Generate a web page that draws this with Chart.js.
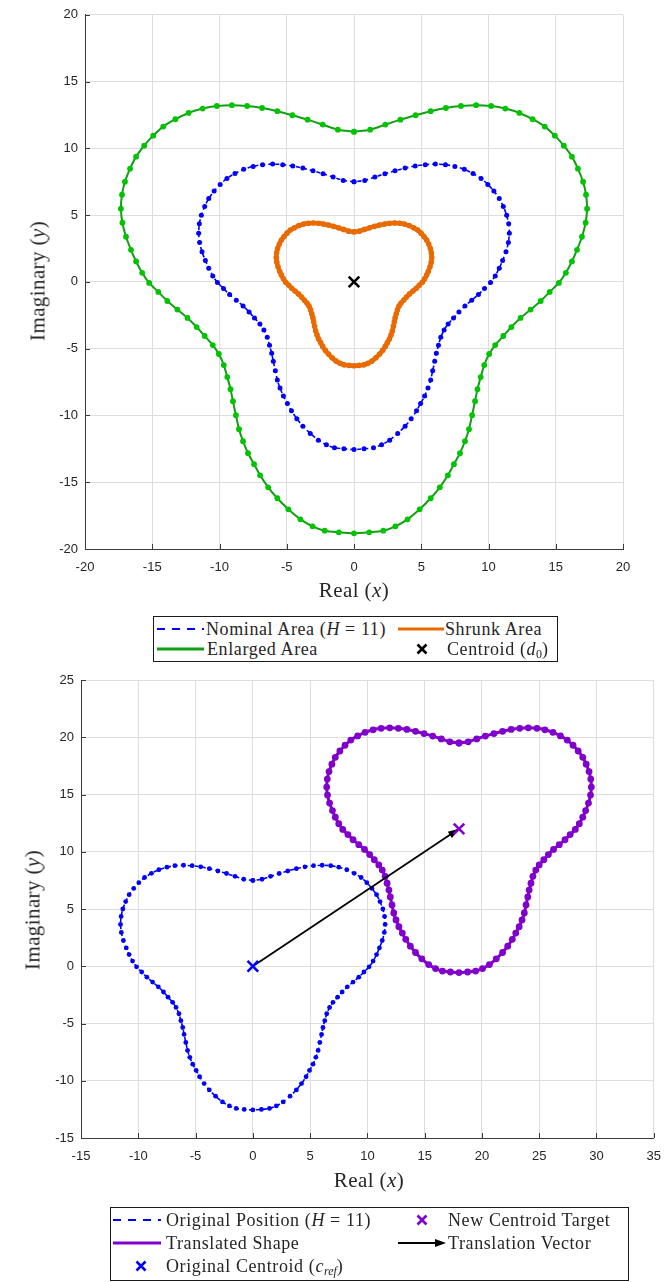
<!DOCTYPE html>
<html>
<head>
<meta charset="utf-8">
<title>Area scaling and translation</title>
<script src="https://cdn.jsdelivr.net/npm/chart.js@4/dist/chart.umd.min.js"></script>
<style>
    body { margin: 0; width: 672px; height: 1282px; position: relative; background: #fff; overflow: hidden; }
    .plot { position: absolute; left: 0; }
    .title { position: absolute; font-family: 'Liberation Serif', serif; font-size: 21px; color: #262626;
             white-space: nowrap; transform: translate(-50%, -50%); letter-spacing: 0.4px; }
    .title.rot { transform: translate(-50%, -50%) rotate(-90deg); }
    .legend { position: absolute; border: 1px solid #1a1a1a; background: #fff; box-sizing: border-box;
              font-family: 'Liberation Serif', serif; font-size: 18px; color: #262626; }
    .legend span { position: absolute; white-space: nowrap; line-height: 20px; letter-spacing: 0.6px; }
    .legend svg { position: absolute; }
    sub { font-size: 12px; vertical-align: -3px; letter-spacing: 0; }
</style>
</head>
<body>

<div class="plot" style="top:0"><canvas id="areaChart" width="672" height="600"></canvas></div>
<div class="plot" style="top:600px"><canvas id="shiftChart" width="672" height="600"></canvas></div>

<!-- axis titles -->
<div class="title" style="left:354px;top:590px">Real (<i>x</i>)</div>
<div class="title rot" style="left:38px;top:281px">Imaginary (<i>y</i>)</div>
<div class="title" style="left:369px;top:1180px">Real (<i>x</i>)</div>
<div class="title rot" style="left:33px;top:910px">Imaginary (<i>y</i>)</div>

<!-- legend, upper plot -->
<div class="legend" style="left:153px;top:616px;width:405px;height:46px">
    <svg style="left:3px;top:5px" width="48" height="14"><line x1="0" y1="7" x2="47" y2="7" stroke="#0000ff" stroke-width="2" stroke-dasharray="8 7"/></svg>
    <span style="left:52px;top:2px">Nominal Area (<i>H</i> = 11)</span>
    <svg style="left:244px;top:5px" width="48" height="14"><line x1="0" y1="7" x2="46" y2="7" stroke="#e86a00" stroke-width="3"/></svg>
    <span style="left:291px;top:2px">Shrunk Area</span>
    <svg style="left:3px;top:25px" width="48" height="14"><line x1="0" y1="7" x2="47" y2="7" stroke="#11a011" stroke-width="3"/></svg>
    <span style="left:53px;top:22px">Enlarged Area</span>
    <svg style="left:261px;top:25px" width="14" height="14"><path d="M2.5 2.5 L11.5 11.5 M11.5 2.5 L2.5 11.5" stroke="#000" stroke-width="2.6"/></svg>
    <span style="left:293px;top:22px">Centroid (<i>d</i><sub>0</sub>)</span>
</div>

<!-- legend, lower plot -->
<div class="legend" style="left:110px;top:1207px;width:519px;height:74px">
    <svg style="left:2px;top:5px" width="50" height="14"><line x1="0" y1="7" x2="48" y2="7" stroke="#0000ff" stroke-width="2" stroke-dasharray="8 7"/></svg>
    <span style="left:55px;top:2px">Original Position (<i>H</i> = 11)</span>
    <svg style="left:304px;top:5px" width="14" height="14"><path d="M2.5 2.5 L11.5 11.5 M11.5 2.5 L2.5 11.5" stroke="#8000cc" stroke-width="2.6"/></svg>
    <span style="left:337px;top:2px">New Centroid Target</span>
    <svg style="left:2px;top:28px" width="50" height="14"><line x1="0" y1="7" x2="48" y2="7" stroke="#8000cc" stroke-width="3"/></svg>
    <span style="left:55px;top:25px">Translated Shape</span>
    <svg style="left:287px;top:28px" width="50" height="14"><line x1="0" y1="7" x2="40" y2="7" stroke="#000" stroke-width="2"/><path d="M48 7 L37 3 L37 11 Z" fill="#000"/></svg>
    <span style="left:337px;top:25px">Translation Vector</span>
    <svg style="left:23px;top:51px" width="14" height="14"><path d="M2.5 2.5 L11.5 11.5 M11.5 2.5 L2.5 11.5" stroke="#0000ff" stroke-width="2.6"/></svg>
    <span style="left:55px;top:48px">Original Centroid (<i>c</i><sub><i>ref</i></sub>)</span>
</div>

<script>
(function() {
    'use strict';

    // ---- tick labels ----
    var areaTicksX = [-20, -15, -10, -5, 0, 5, 10, 15, 20];
    var areaTicksY = [-20, -15, -10, -5, 0, 5, 10, 15, 20];
    var shiftTicksX = [-15, -10, -5, 0, 5, 10, 15, 20, 25, 30, 35];
    var shiftTicksY = [-15, -10, -5, 0, 5, 10, 15, 20, 25];

    // ---- nominal boundary (H = 11) ----
    var nominalPts = [
        [0,7.5],[-0.8,7.6],[-1.55,7.85],[-2.3,8.1],[-3.05,8.32],[-3.8,8.52],[-4.55,8.68],[-5.3,8.78],[-6.05,8.82],[-6.8,8.78],
        [-7.5,8.65],[-8.2,8.43],[-8.85,8.12],[-9.45,7.75],[-9.95,7.3],[-10.4,6.8],[-10.8,6.25],[-11.1,5.65],[-11.35,5],[-11.5,4.35],
        [-11.55,3.65],[-11.48,2.95],[-11.3,2.25],[-11.05,1.6],[-10.8,1.02],[-10.5,0.45],[-10.15,-0.05],[-9.7,-0.5],[-9.25,-0.95],[-8.75,-1.38],
        [-8.25,-1.8],[-7.8,-2.25],[-7.4,-2.7],[-7,-3.15],[-6.7,-3.6],[-6.45,-4.15],[-6.28,-4.75],[-6.12,-5.35],[-6,-5.95],[-5.85,-6.65],
        [-5.7,-7.35],[-5.5,-7.95],[-5.25,-8.55],[-4.95,-9.1],[-4.65,-9.65],[-4.25,-10.25],[-3.8,-10.8],[-3.25,-11.35],[-2.65,-11.85],[-2.05,-12.2],
        [-1.45,-12.42],[-0.75,-12.5],[0,-12.55],
        [0.75,-12.5],[1.45,-12.42],[2.05,-12.2],[2.65,-11.85],[3.25,-11.35],[3.8,-10.8],[4.25,-10.25],[4.65,-9.65],[4.95,-9.1],[5.25,-8.55],
        [5.5,-7.95],[5.7,-7.35],[5.85,-6.65],[6,-5.95],[6.12,-5.35],[6.28,-4.75],[6.45,-4.15],[6.7,-3.6],[7,-3.15],[7.4,-2.7],
        [7.8,-2.25],[8.25,-1.8],[8.75,-1.38],[9.25,-0.95],[9.7,-0.5],[10.15,-0.05],[10.5,0.45],[10.8,1.02],[11.05,1.6],[11.3,2.25],
        [11.48,2.95],[11.55,3.65],[11.5,4.35],[11.35,5],[11.1,5.65],[10.8,6.25],[10.4,6.8],[9.95,7.3],[9.45,7.75],[8.85,8.12],
        [8.2,8.43],[7.5,8.65],[6.8,8.78],[6.05,8.82],[5.3,8.78],[4.55,8.68],[3.8,8.52],[3.05,8.32],[2.3,8.1],[1.55,7.85],
        [0.8,7.6],[0,7.5]
    ];

    // ---- enlarged boundary ----
    var enlargedPts = [
        [0,11.25],[-1.2,11.4],[-2.33,11.78],[-3.45,12.15],[-4.58,12.48],[-5.7,12.78],[-6.83,13.02],[-7.95,13.17],[-9.08,13.23],[-10.2,13.17],
        [-11.25,12.98],[-12.3,12.65],[-13.28,12.18],[-14.18,11.63],[-14.93,10.95],[-15.6,10.2],[-16.2,9.38],[-16.65,8.48],[-17.03,7.5],[-17.25,6.53],
        [-17.33,5.48],[-17.22,4.43],[-16.95,3.38],[-16.58,2.4],[-16.2,1.53],[-15.75,0.68],[-15.23,-0.08],[-14.55,-0.75],[-13.88,-1.43],[-13.13,-2.07],
        [-12.38,-2.7],[-11.7,-3.38],[-11.1,-4.05],[-10.5,-4.73],[-10.05,-5.4],[-9.68,-6.23],[-9.42,-7.13],[-9.18,-8.03],[-9,-8.93],[-8.78,-9.98],
        [-8.55,-11.03],[-8.25,-11.93],[-7.88,-12.83],[-7.43,-13.65],[-6.98,-14.48],[-6.38,-15.38],[-5.7,-16.2],[-4.88,-17.03],[-3.98,-17.78],[-3.08,-18.3],
        [-2.18,-18.63],[-1.13,-18.75],[0,-18.83],
        [1.13,-18.75],[2.18,-18.63],[3.08,-18.3],[3.98,-17.78],[4.88,-17.03],[5.7,-16.2],[6.38,-15.38],[6.98,-14.48],[7.43,-13.65],[7.88,-12.83],
        [8.25,-11.93],[8.55,-11.03],[8.78,-9.98],[9,-8.93],[9.18,-8.03],[9.42,-7.13],[9.68,-6.23],[10.05,-5.4],[10.5,-4.73],[11.1,-4.05],
        [11.7,-3.38],[12.38,-2.7],[13.13,-2.07],[13.88,-1.43],[14.55,-0.75],[15.23,-0.08],[15.75,0.68],[16.2,1.53],[16.58,2.4],[16.95,3.38],
        [17.22,4.43],[17.33,5.48],[17.25,6.53],[17.03,7.5],[16.65,8.48],[16.2,9.38],[15.6,10.2],[14.93,10.95],[14.18,11.63],[13.28,12.18],
        [12.3,12.65],[11.25,12.98],[10.2,13.17],[9.08,13.23],[7.95,13.17],[6.83,13.02],[5.7,12.78],[4.58,12.48],[3.45,12.15],[2.33,11.78],
        [1.2,11.4],[0,11.25]
    ];

    // ---- shrunk boundary ----
    var shrunkPts = [
        [0,3.75],[-0.4,3.8],[-0.78,3.93],[-1.15,4.05],[-1.53,4.16],[-1.9,4.26],[-2.28,4.34],[-2.65,4.39],[-3.03,4.41],[-3.4,4.39],
        [-3.75,4.33],[-4.1,4.22],[-4.43,4.06],[-4.73,3.88],[-4.98,3.65],[-5.2,3.4],[-5.4,3.13],[-5.55,2.83],[-5.68,2.5],[-5.75,2.18],
        [-5.78,1.83],[-5.74,1.48],[-5.65,1.13],[-5.53,0.8],[-5.4,0.51],[-5.25,0.23],[-5.08,-0.03],[-4.85,-0.25],[-4.63,-0.48],[-4.38,-0.69],
        [-4.13,-0.9],[-3.9,-1.13],[-3.7,-1.35],[-3.5,-1.58],[-3.35,-1.8],[-3.23,-2.08],[-3.14,-2.38],[-3.06,-2.68],[-3,-2.98],[-2.93,-3.33],
        [-2.85,-3.68],[-2.75,-3.98],[-2.63,-4.28],[-2.48,-4.55],[-2.33,-4.83],[-2.13,-5.13],[-1.9,-5.4],[-1.63,-5.68],[-1.33,-5.93],[-1.03,-6.1],
        [-0.73,-6.21],[-0.38,-6.25],[0,-6.28],
        [0.38,-6.25],[0.73,-6.21],[1.03,-6.1],[1.33,-5.93],[1.63,-5.68],[1.9,-5.4],[2.13,-5.13],[2.33,-4.83],[2.48,-4.55],[2.63,-4.28],
        [2.75,-3.98],[2.85,-3.68],[2.93,-3.33],[3,-2.98],[3.06,-2.68],[3.14,-2.38],[3.23,-2.08],[3.35,-1.8],[3.5,-1.58],[3.7,-1.35],
        [3.9,-1.13],[4.13,-0.9],[4.38,-0.69],[4.63,-0.48],[4.85,-0.25],[5.08,-0.03],[5.25,0.23],[5.4,0.51],[5.53,0.8],[5.65,1.13],
        [5.74,1.48],[5.78,1.83],[5.75,2.18],[5.68,2.5],[5.55,2.83],[5.4,3.13],[5.2,3.4],[4.98,3.65],[4.73,3.88],[4.43,4.06],
        [4.1,4.22],[3.75,4.33],[3.4,4.39],[3.03,4.41],[2.65,4.39],[2.28,4.34],[1.9,4.26],[1.53,4.16],[1.15,4.05],[0.78,3.93],
        [0.4,3.8],[0,3.75]
    ];

    // ---- translated boundary ----
    var translatedPts = [
        [18,19.5],[17.2,19.6],[16.45,19.85],[15.7,20.1],[14.95,20.32],[14.2,20.52],[13.45,20.68],[12.7,20.78],[11.95,20.82],[11.2,20.78],
        [10.5,20.65],[9.8,20.43],[9.15,20.12],[8.55,19.75],[8.05,19.3],[7.6,18.8],[7.2,18.25],[6.9,17.65],[6.65,17],[6.5,16.35],
        [6.45,15.65],[6.52,14.95],[6.7,14.25],[6.95,13.6],[7.2,13.02],[7.5,12.45],[7.85,11.95],[8.3,11.5],[8.75,11.05],[9.25,10.62],
        [9.75,10.2],[10.2,9.75],[10.6,9.3],[11,8.85],[11.3,8.4],[11.55,7.85],[11.72,7.25],[11.88,6.65],[12,6.05],[12.15,5.35],
        [12.3,4.65],[12.5,4.05],[12.75,3.45],[13.05,2.9],[13.35,2.35],[13.75,1.75],[14.2,1.2],[14.75,0.65],[15.35,0.15],[15.95,-0.2],
        [16.55,-0.42],[17.25,-0.5],[18,-0.55],
        [18.75,-0.5],[19.45,-0.42],[20.05,-0.2],[20.65,0.15],[21.25,0.65],[21.8,1.2],[22.25,1.75],[22.65,2.35],[22.95,2.9],[23.25,3.45],
        [23.5,4.05],[23.7,4.65],[23.85,5.35],[24,6.05],[24.12,6.65],[24.28,7.25],[24.45,7.85],[24.7,8.4],[25,8.85],[25.4,9.3],
        [25.8,9.75],[26.25,10.2],[26.75,10.62],[27.25,11.05],[27.7,11.5],[28.15,11.95],[28.5,12.45],[28.8,13.02],[29.05,13.6],[29.3,14.25],
        [29.48,14.95],[29.55,15.65],[29.5,16.35],[29.35,17],[29.1,17.65],[28.8,18.25],[28.4,18.8],[27.95,19.3],[27.45,19.75],[26.85,20.12],
        [26.2,20.43],[25.5,20.65],[24.8,20.78],[24.05,20.82],[23.3,20.78],[22.55,20.68],[21.8,20.52],[21.05,20.32],[20.3,20.1],[19.55,19.85],
        [18.8,19.6],[18,19.5]
    ];

    // ---- centroids and translation vector ----
    var centroid = [0, 0];
    var targetCentroid = [18, 12];
    var arrowStart = [0, 0];
    var arrowEnd = [18, 12];

    var tickFont = { family: "'Liberation Sans', Arial, sans-serif", size: 13 };
    var tickColor = '#262626';
    var gridColor = '#dedede';
    var axisColor = '#3a3a3a';

    function toXY(list) {
        return list.map(function(p) { return { x: p[0], y: p[1] }; });
    }

    /**
     * Linear axis with fixed tick values and a fixed thickness,
     * so the plot box lands where the original one is.
     */
    function axis(ticks, thickness, isX) {
        return {
            type: 'linear',
            min: ticks[0],
            max: ticks[ticks.length - 1],
            afterBuildTicks: function(scale) {
                scale.ticks = ticks.map(function(v) { return { value: v }; });
            },
            afterFit: function(scale) {
                if (isX) { scale.height = thickness; } else { scale.width = thickness; }
            },
            ticks: { color: tickColor, font: tickFont, padding: isX ? 11 : 7, maxRotation: 0, autoSkip: false },
            grid: { color: gridColor, drawTicks: false },
            border: { color: axisColor, width: 1 }
        };
    }

    // MATLAB-style ticks pointing into the plot box
    var inwardTicks = {
        id: 'inwardTicks',
        beforeDatasetsDraw: function(chart) {
            var ctx = chart.ctx, a = chart.chartArea, sx = chart.scales.x, sy = chart.scales.y;
            ctx.save();
            ctx.strokeStyle = axisColor;
            ctx.lineWidth = 1;
            ctx.beginPath();
            sx.ticks.forEach(function(t) {
                var px = Math.round(sx.getPixelForValue(t.value)) + 0.5;
                ctx.moveTo(px, a.bottom);
                ctx.lineTo(px, a.bottom - 5);
            });
            sy.ticks.forEach(function(t) {
                var py = Math.round(sy.getPixelForValue(t.value)) + 0.5;
                ctx.moveTo(a.left, py);
                ctx.lineTo(a.left + 5, py);
            });
            ctx.stroke();
            ctx.restore();
        }
    };

    // arrow head at the end of the translation vector
    var arrowHead = {
        id: 'arrowHead',
        afterDatasetDraw: function(chart, args) {
            if (chart.data.datasets[args.index].id !== 'vector') { return; }
            var ctx = chart.ctx, sx = chart.scales.x, sy = chart.scales.y;
            var x0 = sx.getPixelForValue(arrowStart[0]), y0 = sy.getPixelForValue(arrowStart[1]);
            var x1 = sx.getPixelForValue(arrowEnd[0]), y1 = sy.getPixelForValue(arrowEnd[1]);
            var ang = Math.atan2(y1 - y0, x1 - x0);
            var len = 11, half = 3.8;
            var bx = x1 - len * Math.cos(ang), by = y1 - len * Math.sin(ang);
            ctx.save();
            ctx.fillStyle = '#000';
            ctx.beginPath();
            ctx.moveTo(x1, y1);
            ctx.lineTo(bx + half * Math.sin(ang), by - half * Math.cos(ang));
            ctx.lineTo(bx - half * Math.sin(ang), by + half * Math.cos(ang));
            ctx.closePath();
            ctx.fill();
            ctx.restore();
        }
    };

    var baseOptions = function(xTicks, yTicks, xHeight, yWidth, padding) {
        return {
            responsive: false,
            animation: false,
            events: [],
            layout: { padding: padding },
            plugins: { legend: { display: false }, tooltip: { enabled: false } },
            scales: { x: axis(xTicks, xHeight, true), y: axis(yTicks, yWidth, false) }
        };
    };

    function marker(point, color) {
        return {
            data: toXY([point]),
            showLine: false,
            pointStyle: 'crossRot',
            pointRadius: 7.5,
            pointBorderWidth: 2.6,
            pointBorderColor: color,
            pointBackgroundColor: color
        };
    }

    // ---- upper plot: nominal, shrunk and enlarged areas ----
    new Chart(document.getElementById('areaChart'), {
        type: 'scatter',
        data: {
            datasets: [
                marker(centroid, '#000000'),
                {
                    data: toXY(enlargedPts), showLine: true, tension: 0.2,
                    borderColor: '#11a011', borderWidth: 2,
                    pointRadius: 2.9, pointBackgroundColor: '#00c400', pointBorderWidth: 0
                },
                {
                    data: toXY(shrunkPts), showLine: true, tension: 0.2,
                    borderColor: '#e86a00', borderWidth: 4.5,
                    pointRadius: 2.8, pointBackgroundColor: '#e86a00', pointBorderWidth: 0
                },
                {
                    data: toXY(nominalPts), showLine: true, tension: 0.2,
                    borderColor: '#0000ff', borderWidth: 1.6, borderDash: [4, 3],
                    pointRadius: 2.5, pointBackgroundColor: '#0000ff', pointBorderWidth: 0
                }
            ]
        },
        options: baseOptions(areaTicksX, areaTicksY, 51, 85, { top: 13, right: 49, left: 0, bottom: 0 }),
        plugins: [inwardTicks]
    });

    // ---- lower plot: translation of the nominal area ----
    var vector = {
        id: 'vector',
        data: toXY([arrowStart, arrowEnd]),
        showLine: true,
        borderColor: '#000000',
        borderWidth: 1.8,
        pointRadius: 0
    };

    new Chart(document.getElementById('shiftChart'), {
        type: 'scatter',
        data: {
            datasets: [
                marker(targetCentroid, '#8000cc'),
                marker(centroid, '#0000ff'),
                vector,
                {
                    data: toXY(translatedPts), showLine: true, tension: 0.2,
                    borderColor: '#8000cc', borderWidth: 3,
                    pointRadius: 3.4, pointBackgroundColor: '#8000cc', pointBorderWidth: 0
                },
                {
                    data: toXY(nominalPts), showLine: true, tension: 0.2,
                    borderColor: '#0000ff', borderWidth: 1.6, borderDash: [4, 3],
                    pointRadius: 2.4, pointBackgroundColor: '#0000ff', pointBorderWidth: 0
                }
            ]
        },
        options: baseOptions(shiftTicksX, shiftTicksY, 62, 81, { top: 80, right: 15, left: 0, bottom: 0 }),
        plugins: [inwardTicks, arrowHead]
    });

})();
</script>
</body>
</html>
